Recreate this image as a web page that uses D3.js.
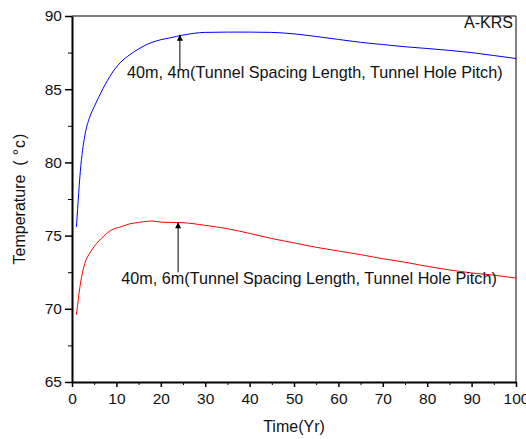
<!DOCTYPE html>
<html>
<head>
<meta charset="utf-8">
<script src="https://d3js.org/d3.v7.min.js"></script>
<style>
  body { margin: 0; background: #fff; }
  text { font-family: "Liberation Sans", Arial, sans-serif; fill: #111; }
  .axis path, .axis line { stroke: #000; }
  .line { fill: none; stroke-width: 1px; }
</style>
</head>
<body>
<script>
// time in years
var years = [1, 2, 3, 4, 5, 7, 9, 11, 13, 15, 18, 20, 22, 25, 30, 35, 40, 45, 50, 55, 60, 65, 70, 75, 80, 85, 90, 95, 100];
// 40m, 4m case (blue)
var temp4m = [75.6, 79.8, 82.0, 83.1, 83.8, 85.05, 86.1, 86.85, 87.35, 87.75, 88.2, 88.38, 88.5, 88.7, 88.88, 88.9, 88.9, 88.88, 88.78, 88.6, 88.4, 88.2, 88.05, 87.9, 87.78, 87.65, 87.5, 87.3, 87.1];
// 40m, 6m case (red)
var temp6m = [69.6, 71.9, 73.2, 73.8, 74.25, 74.93, 75.4, 75.6, 75.8, 75.9, 76.0, 75.92, 75.9, 75.88, 75.7, 75.47, 75.15, 74.8, 74.5, 74.2, 73.95, 73.7, 73.42, 73.18, 72.9, 72.65, 72.45, 72.3, 72.1];

var xTicks = [0, 10, 20, 30, 40, 50, 60, 70, 80, 90, 100];
var yTicks = [65, 70, 75, 80, 85, 90];

var margin = {top: 16, right: 10, bottom: 57, left: 72},
    width = 526 - margin.left - margin.right,
    height = 439 - margin.top - margin.bottom;

var svg = d3.select("body").append("svg")
    .attr("width", 526)
    .attr("height", 439);
var g = svg.append("g")
    .attr("transform", "translate(" + margin.left + "," + margin.top + ")");

var x = d3.scaleLinear().domain([0, 100]).range([0, width]);
var y = d3.scaleLinear().domain([65, 90]).range([height, 0]);

// frame (top and right)
g.append("path")
    .attr("d", "M0,0H" + width + "V" + height)
    .attr("fill", "none").attr("stroke", "#000").attr("stroke-width", 1);

// minor ticks
g.append("g").attr("class", "axis")
    .attr("transform", "translate(0," + height + ")")
    .call(d3.axisBottom(x).tickValues(d3.range(5, 100, 10)).tickSize(3).tickFormat(""))
    .call(function (s) { s.select(".domain").remove(); });
g.append("g").attr("class", "axis")
    .call(d3.axisLeft(y).tickValues(d3.range(67.5, 90, 5)).tickSize(4).tickFormat(""))
    .call(function (s) { s.select(".domain").remove(); });

// major axes
var xa = g.append("g").attr("class", "axis")
    .attr("transform", "translate(0," + height + ")")
    .call(d3.axisBottom(x).tickValues(xTicks).tickSize(5).tickSizeOuter(0).tickPadding(6));
var ya = g.append("g").attr("class", "axis")
    .call(d3.axisLeft(y).tickValues(yTicks).tickSize(7).tickSizeOuter(0).tickPadding(3));
[xa, ya].forEach(function (a) {
    a.select(".domain").attr("stroke-width", 2);
    a.selectAll("line").attr("stroke-width", 1.5);
    a.selectAll("text").style("font-size", "15.5px")
        .style("font-family", "'Liberation Sans', Arial, sans-serif").attr("fill", "#111");
});

// curves
var line = function (vals) {
    return d3.line()
        .x(function (d, i) { return x(years[i]); })
        .y(function (d) { return y(d); })
        .curve(d3.curveMonotoneX)(vals);
};
g.append("path").attr("class", "line").attr("stroke", "#0000ff").attr("d", line(temp4m));
g.append("path").attr("class", "line").attr("stroke", "#ff0000").attr("d", line(temp6m));

// arrows + labels
svg.append("defs").append("marker")
    .attr("id", "arrow")
    .attr("viewBox", "0 0 10 10")
    .attr("refX", 10).attr("refY", 5)
    .attr("markerWidth", 10).attr("markerHeight", 6)
    .attr("markerUnits", "userSpaceOnUse")
    .attr("orient", "auto")
    .append("path").attr("d", "M0,0L10,5L0,10Z").attr("fill", "#000");

var notes = [
    {t: 24.3, from: 86.3, to: 88.72, tx: 12.4, ty: 85.75, label: "40m, 4m(Tunnel Spacing Length, Tunnel Hole Pitch)"},
    {t: 23.9, from: 72.5, to: 75.92, tx: 11.1, ty: 71.7, label: "40m, 6m(Tunnel Spacing Length, Tunnel Hole Pitch)"}
];
notes.forEach(function (n) {
    g.append("line")
        .attr("x1", x(n.t)).attr("x2", x(n.t))
        .attr("y1", y(n.from)).attr("y2", y(n.to))
        .attr("stroke", "#000").attr("stroke-width", 1)
        .attr("marker-end", "url(#arrow)");
    g.append("text")
        .attr("x", x(n.tx)).attr("y", y(n.ty))
        .style("font-size", "16.2px")
        .text(n.label);
});

g.append("text")
    .attr("x", width - 3).attr("y", 12)
    .attr("text-anchor", "end")
    .style("font-size", "16px")
    .text("A-KRS");

// axis titles
svg.append("text")
    .attr("x", margin.left + width / 2).attr("y", 432)
    .attr("text-anchor", "middle")
    .style("font-size", "16px")
    .text("Time(Yr)");

var yt = svg.append("text")
    .attr("transform", "translate(25,199) rotate(-90)")
    .attr("text-anchor", "middle")
    .style("font-size", "16px");
yt.append("tspan").text("Temperature");
yt.append("tspan").attr("dx", 9).text("(");
yt.append("tspan").attr("dx", 5).text("\u00B0");
yt.append("tspan").attr("dx", 1).text("c");
yt.append("tspan").attr("dx", 1).text(")");
</script>
</body>
</html>
